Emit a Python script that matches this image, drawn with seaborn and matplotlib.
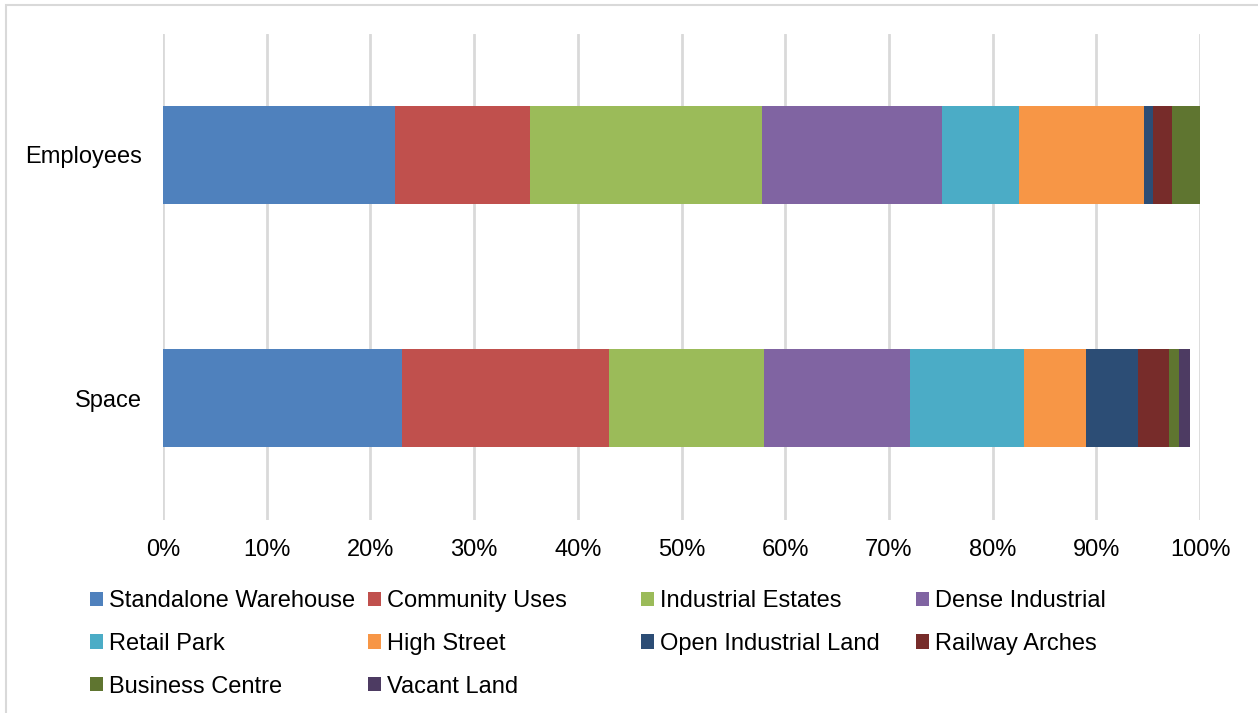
import matplotlib
matplotlib.use("Agg")
import matplotlib.pyplot as plt
from matplotlib.patches import Patch, Rectangle
from matplotlib.ticker import FuncFormatter, MultipleLocator
import numpy as np
import pandas as pd
import seaborn as sns

# Share of employees and floor space by type of employment site
categories = ["Employees", "Space"]
series_names = [
    "Standalone Warehouse", "Community Uses", "Industrial Estates", "Dense Industrial",
    "Retail Park", "High Street", "Open Industrial Land", "Railway Arches",
    "Business Centre", "Vacant Land",
]
employees = [22.4, 13.0, 22.4, 17.3, 7.4, 12.1, 0.9, 1.8, 2.7, 0.0]
space = [23.0, 20.0, 15.0, 14.0, 11.0, 6.0, 5.0, 3.0, 1.0, 1.0]
colors = [
    "#4F81BD", "#C0504D", "#9BBB59", "#8064A2", "#4BACC6",
    "#F79646", "#2C4D75", "#772C2A", "#5F7530", "#4D3B62",
]

sns.set_theme(style="white")
plt.rcParams["font.family"] = ["Liberation Sans", "DejaVu Sans"]
FS = 17

df = pd.DataFrame({"Employees": employees, "Space": space}, index=series_names)
cum = df.cumsum()

fig = plt.figure(figsize=(12.58, 7.13), dpi=100)
ax = fig.add_axes([163 / 1258, 1 - 519.5 / 713, (1200 - 163) / 1258, (519.5 - 33.5) / 713])

# stacked bars: draw cumulative totals from the outermost segment inwards
for name, col in reversed(list(zip(series_names, colors))):
    sns.barplot(
        x=cum.loc[name, categories].values / 100.0,
        y=categories,
        orient="h",
        color=col,
        saturation=1,
        width=0.4,
        linewidth=0,
        ax=ax,
        zorder=3,
    )

ax.set_xlim(0, 1)
ax.set_ylim(1.5, -0.5)
ax.xaxis.set_major_locator(MultipleLocator(0.1))
ax.xaxis.set_major_formatter(FuncFormatter(lambda v, p: f"{v * 100:.0f}%"))
ax.grid(axis="x", color="#D9D9D9", linewidth=2, zorder=0)
ax.grid(axis="y", visible=False)
ax.set_axisbelow(True)
for s in ax.spines.values():
    s.set_visible(False)
ax.tick_params(axis="x", length=0, pad=14, labelsize=FS, colors="#000000")
ax.tick_params(axis="y", length=0, pad=15, labelsize=FS, colors="#000000")
ax.set_xlabel("")
ax.set_ylabel("")

# legend laid out in four columns, filled row by row
col_x = [90, 368, 641, 916]
for j, x0 in enumerate(col_x):
    idx = list(range(j, len(series_names), 4))
    handles = [Patch(facecolor=colors[i], edgecolor="none", label=series_names[i]) for i in idx]
    leg = fig.legend(
        handles=handles,
        loc="upper left",
        bbox_to_anchor=(x0 / 1258, 1 - 590 / 713),
        frameon=False,
        fontsize=FS,
        handlelength=0.55,
        handleheight=0.55,
        handletextpad=0.25,
        labelspacing=0.88,
        borderpad=0,
        borderaxespad=0,
    )
    for t in leg.get_texts():
        t.set_color("#000000")

# outer chart border
fig.add_artist(Rectangle((6 / 1258, -0.05), 1.0, 1 - 5 / 713 + 0.05,
                         transform=fig.transFigure, fill=False,
                         edgecolor="#D9D9D9", linewidth=1.5))

fig.savefig("out.png", dpi=100, facecolor="white")
